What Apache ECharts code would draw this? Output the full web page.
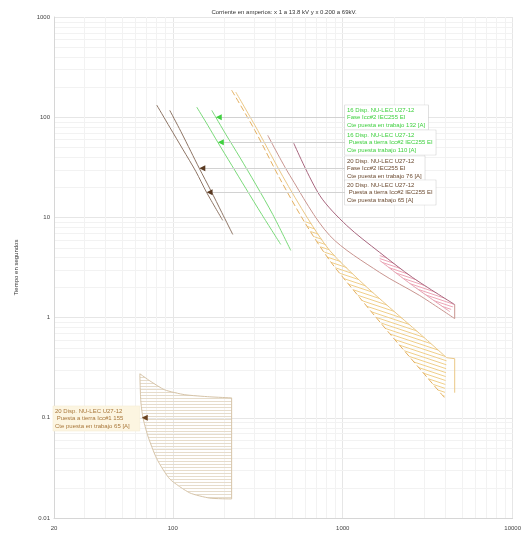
<!DOCTYPE html>
<html><head><meta charset="utf-8">
<script src="https://cdn.jsdelivr.net/npm/echarts/dist/echarts.min.js"></script>
<style>html,body{margin:0;padding:0;background:#fff}#c{width:524px;height:540px}</style>
</head><body><div id="c"></div>
<script>
// ---- tick values ----
const xMinor = [30,40,50,60,70,80,90,200,300,400,500,600,700,800,900,2000,3000,4000,5000,6000,7000,8000,9000];
const yMinor = [0.02,0.03,0.04,0.05,0.06,0.07,0.08,0.09,0.2,0.3,0.4,0.5,0.6,0.7,0.8,0.9,2,3,4,5,6,7,8,9,20,30,40,50,60,70,80,90,200,300,400,500,600,700,800,900];

// ---- curves [current A, time s] ----
const brownGround = [[80.5,132],[96,79.4],[114.5,47.9],[136.6,28.8],[158,17.8],[196.8,9.33]];
const brownPhase  = [[96,117],[111.4,72.4],[127.6,45.7],[143.2,30.9],[167.3,18.6],[194.2,11.2],[225.4,6.76]];
const greenGround = [[138.4,126],[160.6,83.2],[184,56.2],[222.4,33.1],[268.8,19.5],[334,10.7],[431.8,5.37]];
const greenPhase  = [[169.6,117],[179,100],[205,67.6],[248,39.8],[307.7,21.4],[387.5,10.7],[494.5,4.68]];
const orangeLower = [[222,186],[304,74],[426,24.5],[598,8.9],[838,3.72],[1259,1.58],[1890,0.692],[2838,0.309],[3981,0.158]];
const orangeUpper = [[234.8,178],[316,74],[443.7,25.7],[622.5,9.77],[838,4.68],[1259,2.34],[1890,1.26],[2838,0.692],[4090,0.398]];
const orangeEnd   = [[4090,0.398],[4560,0.389],[4560,0.178]];
const redUpper    = [[515,55],[732,16.6],[1056,8.3],[1651,4.47],[2580,2.51],[4560,1.35]];
const redInner    = [[1651,3.72],[2580,2.09],[4260,1.15]];
const redLower    = [[362,66],[488,26.3],[838,6.6],[1651,2.82],[2838,1.66],[4560,0.977]];
const redEnd      = [[4560,1.35],[4560,0.977]];
const instTop     = [[64,0.275],[73.2,0.234],[89.7,0.19],[117.6,0.17],[165,0.162],[222,0.158]];
const instBottom  = [[64,0.275],[64.8,0.148],[66.6,0.102],[71.3,0.066],[80.5,0.039],[96,0.0245],[126,0.0178],[165,0.0158],[222,0.0155]];
const instRight   = [[222,0.158],[222,0.0155]];

// ---- markers and annotations ----
const markerPts = [[179,100],[184,56.2],[143.2,30.9],[158,17.8],[65.7,0.1]];
const labelTexts = [
  ['16 Disp. NU-LEC U27-12','Fase Icc#2 IEC255 EI','Cte puesta en trabajo 132 [A]'],
  ['16 Disp. NU-LEC U27-12',' Puesta a tierra Icc#2 IEC255 EI','Cte puesta trabajo 110 [A]'],
  ['20 Disp. NU-LEC U27-12','Fase Icc#2 IEC255 EI','Cte puesta en trabajo 76 [A]'],
  ['20 Disp. NU-LEC U27-12',' Puesta a tierra Icc#2 IEC255 EI','Cte puesta trabajo 65 [A]'],
  ['20 Disp. NU-LEC U27-12',' Puesta a tierra Icc#1 155','Cte puesta en trabajo 65 [A]']
];

const FONT = '"Liberation Sans", Arial, sans-serif';
const C = {
  brown:'#8e7565', green:'#7ada7a', orange:'#e4b060', orangeUp:'#ebc887',
  red:'#a8667e', redInner:'#e6a0b0', redLow:'#c99590', inst:'#d6c4a8'
};
const annotStyle = [
  {color:'#3fd03f', marker:'#3fd03f', border:'#cfcfcf', bg:'#ffffff', side:'right'},
  {color:'#3fd03f', marker:'#3fd03f', border:'#cfcfcf', bg:'#ffffff', side:'right'},
  {color:'#6b4a30', marker:'#5a3a22', border:'#cfcfcf', bg:'#ffffff', side:'right'},
  {color:'#6b4a30', marker:'#5a3a22', border:'#cfcfcf', bg:'#ffffff', side:'right'},
  {color:'#a8773a', marker:'#6b4320', border:'#f5ecd4', bg:'#fcf5e1', side:'left'}
];
const BOX_X = 345;
const LEFT_BOX_X = 54;

function hatch(color, kind, w, h) {
  const c = document.createElement('canvas');
  c.width = w; c.height = h;
  const g = c.getContext('2d');
  g.strokeStyle = color; g.lineWidth = 1;
  g.beginPath();
  if (kind === 'h') { g.moveTo(0, h - 0.5); g.lineTo(w, h - 0.5); }
  else {
    g.moveTo(0, 0); g.lineTo(w, h);
    g.moveTo(0, -h); g.lineTo(w, 0);
    g.moveTo(0, h); g.lineTo(w, 2*h);
  }
  g.stroke();
  return {image: c, repeat: 'repeat'};
}
const patOrange = hatch('#f0cf8a', 'd', 12, 4);
const patRed = hatch('#eea6b8', 'd', 9, 3);
const patInst = hatch('#e6dccb', 'h', 3, 3);

function band(upper, lower, fill) {
  return {
    type:'custom', silent:true, z:1, clip:true,
    data:[upper[0]],
    renderItem: function (params, api) {
      const pts = upper.map(d => api.coord(d)).concat(lower.slice().reverse().map(d => api.coord(d)));
      return {type:'polygon', shape:{points:pts}, style:{fill:fill, stroke:null}};
    }
  };
}
function line(name, data, color, opts) {
  opts = opts || {};
  return {
    type:'line', name:name, data:data, symbol:'none', z:3,
    smooth: opts.smooth === undefined ? 0.3 : opts.smooth,
    lineStyle:{color:color, width:opts.width || 1, type:opts.type || 'solid'},
    silent:true, animation:false
  };
}
function gridLines(vals, dir) {
  return {
    type:'custom', silent:true, z:0,
    data: vals.map(v => dir === 'x' ? [v, 1] : [100, v]),
    renderItem: function (params, api) {
      const cs = params.coordSys;
      const p = api.coord([api.value(0), api.value(1)]);
      if (dir === 'x') {
        const x = Math.round(p[0]) + 0.5;
        return {type:'line', shape:{x1:x, y1:cs.y, x2:x, y2:cs.y + cs.height}, style:{stroke:'#f2f2f2', lineWidth:1}};
      }
      const y = Math.round(p[1]) + 0.5;
      return {type:'line', shape:{x1:cs.x, y1:y, x2:cs.x + cs.width, y2:y}, style:{stroke:'#f2f2f2', lineWidth:1}};
    }
  };
}
const fmt = v => String(+v.toPrecision(6));

const chart = echarts.init(document.getElementById('c'), null, {renderer:'canvas'});
chart.setOption({
  animation:false,
  backgroundColor:'#fff',
  title:{
    text:'Corriente en amperios: x 1 a 13.8 kV y x 0.200 a 69kV.',
    left:284, top:9, textAlign:'center', padding:0,
    textStyle:{fontSize:6, fontWeight:'normal', color:'#333', fontFamily:FONT}
  },
  grid:{left:54, right:11, top:17, bottom:22, containLabel:false},
  xAxis:{
    type:'log', logBase:10, min:20, max:10000,
    axisLine:{show:true, lineStyle:{color:'#d6d6d6'}},
    axisTick:{show:false},
    axisLabel:{fontSize:6, color:'#444', margin:7, fontFamily:FONT, formatter:fmt},
    splitLine:{show:true, lineStyle:{color:'#e6e6e6'}}
  },
  yAxis:{
    type:'log', logBase:10, min:0.01, max:1000,
    name:'Tiempo en segundos', nameLocation:'middle', nameGap:35,
    nameTextStyle:{fontSize:6, color:'#333', fontFamily:FONT},
    axisLine:{show:true, lineStyle:{color:'#d6d6d6'}},
    axisTick:{show:false},
    axisLabel:{fontSize:6, color:'#444', margin:4, fontFamily:FONT, formatter:fmt},
    splitLine:{show:true, lineStyle:{color:'#e6e6e6'}}
  },
  series:[
    gridLines(xMinor, 'x'),
    gridLines(yMinor, 'y'),
    band(instTop, instBottom, patInst),
    band(orangeUpper.slice(3), orangeLower.slice(3), patOrange),
    band(redUpper.slice(3), redInner, patRed),
    line('inst-top', instTop, C.inst, {smooth:0.2}),
    line('inst-bottom', instBottom, C.inst, {smooth:0.2}),
    line('inst-right', instRight, C.inst, {smooth:false}),
    line('brown-ground', brownGround, C.brown),
    line('brown-phase', brownPhase, C.brown),
    line('green-ground', greenGround, C.green),
    line('green-phase', greenPhase, C.green),
    line('orange-lower', orangeLower, C.orange, {type:[6,3]}),
    line('orange-upper', orangeUpper, C.orangeUp),
    line('orange-end', orangeEnd, C.orangeUp, {smooth:false}),
    line('red-upper', redUpper, C.red),
    line('red-inner', redInner, C.redInner),
    line('red-lower', redLower, C.redLow),
    line('red-end', redEnd, C.redLow, {smooth:false}),
    {
      type:'custom', silent:true, z:5, clip:false,
      data: markerPts.map((d, i) => [d[0], d[1], i]),
      renderItem: function (params, api) {
        const i = api.value(2);
        const st = annotStyle[i];
        const p = api.coord([api.value(0), api.value(1)]);
        const y = Math.round(p[1]) + 0.5;
        const children = [];
        const txt = labelTexts[i].join('\n');
        if (st.side === 'right') {
          children.push({type:'line', shape:{x1:p[0] + 2, y1:y, x2:BOX_X, y2:y}, style:{stroke:'#d2d2d2', lineWidth:1}});
          children.push({type:'text', x:BOX_X, y:y, style:{
            text:txt, fill:st.color, font:'6px ' + FONT, lineHeight:7.5,
            align:'left', textAlign:'left', verticalAlign:'middle', textVerticalAlign:'middle',
            backgroundColor:st.bg, borderColor:st.border, borderWidth:0.6, padding:[1, 3, 1, 2]}});
        } else {
          children.push({type:'rect', shape:{x:LEFT_BOX_X - 1, y:y - 12.5, width:p[0] - LEFT_BOX_X - 1, height:25},
            style:{fill:st.bg, stroke:st.border, lineWidth:0.6}});
          children.push({type:'text', x:LEFT_BOX_X + 1, y:y, style:{
            text:txt, fill:st.color, font:'6px ' + FONT, lineHeight:7.5,
            align:'left', textAlign:'left', verticalAlign:'middle', textVerticalAlign:'middle'}});
        }
        const s = 3;
        children.push({type:'polygon', shape:{points:[[p[0], p[1]], [p[0] + 2*s, p[1] - s], [p[0] + 2*s, p[1] + s]]},
          style:{fill:st.marker, stroke:null}});
        return {type:'group', children:children};
      }
    }
  ]
});
</script>
</body></html>
